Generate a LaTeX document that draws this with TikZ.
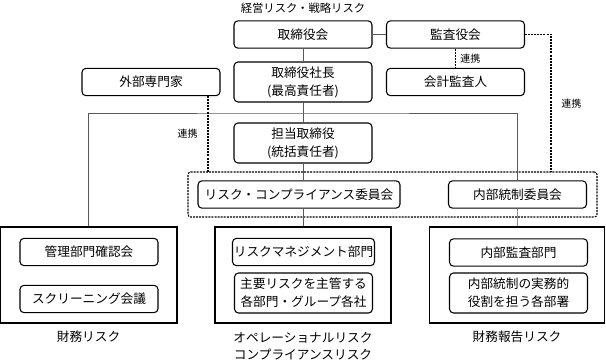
\documentclass[tikz,border=0pt]{standalone}
\usepackage{fontspec}
\setmainfont{Noto Sans CJK JP}
\usetikzlibrary{positioning}

\begin{document}
\begin{tikzpicture}[x=0.75pt,y=-0.75pt,
  box/.style={draw,rounded corners=3pt,fill=white,minimum width=103.5pt,minimum height=20.5pt,align=center,line width=0.8pt,inner sep=1pt,font=\fontsize{9.5}{13.5}\selectfont},
  tallbox/.style={box,minimum height=30pt},
  area/.style={draw,line width=0.8pt,minimum width=132pt,minimum height=72pt},
  group/.style={draw,rounded corners=2pt,line width=0.8pt,dash pattern=on 1.5pt off 0.8pt,minimum width=306.75pt,minimum height=33.75pt},
  link/.style={line width=0.5pt,black!65},
  liaison/.style={line width=0.8pt,dash pattern=on 1.5pt off 0.8pt},
  lbl/.style={align=center,font=\fontsize{9.5}{12.75}\selectfont},
  tiny/.style={font=\fontsize{7.5}{9}\selectfont}
]
\useasboundingbox (0,0) rectangle (606,360);

\node[lbl,font=\fontsize{8.5}{10}\selectfont] (keiei) at (303,8) {経営リスク・戦略リスク};

% top of the organisation
\node[box] (tori) at (303,34.5) {取締役会};
\node[box] (kansa) at (455.5,34.5) {監査役会};
\node[tallbox] (shacho) at (303,82) {取締役社長\\(最高責任者)};
\node[box] (kaikei) at (455.5,82) {会計監査人};
\node[box] (gaibu) at (151,82) {外部専門家};
\node[tallbox] (tanto) at (303,143) {担当取締役\\(統括責任者)};

% committees
\node[group] (iinkai) at (392.5,194.5) {};
\node[box,minimum width=151.5pt] (rcom) at (299,194.5) {リスク・コンプライアンス委員会};
\node[box] (icom) at (517.5,194.5) {内部統制委員会};

% risk areas
\node[area,minimum width=132.3pt] (zaimu) at (88.8,275) {};
\node[area] (opr) at (303,275) {};
\node[area,minimum width=131.7pt] (hokoku) at (517,275) {};

\node[box] (kanri) at (89,252) {管理部門確認会};
\node[box] (screen) at (89,299) {スクリーニング会議};
\node[box] (riskmg) at (303.5,252) {リスクマネジメント部門};
\node[tallbox] (shuyo) at (303.5,293) {主要リスクを主管する\\各部門・グループ各社};
\node[box] (naibu) at (518.5,252.5) {内部監査部門};
\node[tallbox] (jitsumu) at (518.5,293) {内部統制の実務的\\役割を担う各部署};

\node[lbl] (zaimulbl) at (88.5,337) {財務リスク};
\node[lbl] (oprlbl) at (303,346.5) {オペレーショナルリスク\\コンプライアンスリスク};
\node[lbl] (hokokulbl) at (517,337) {財務報告リスク};

% reporting lines
\coordinate (bus) at (303,113);
\draw[link] (tori) -- (kansa);
\draw[link] (tori) -- (shacho);
\draw[link] (shacho) -- (tanto);
\draw[link] (tanto.south) -- (tanto.south |- rcom.north);
\draw[link] (tanto.south |- rcom.south) -- (opr);
\draw[link] (zaimu.north) |- (bus) -| (icom.north);
\draw[link] (icom) -- (hokoku);

% cooperation
\coordinate (gl) at (208,172);
\coordinate (kl) at (551,172);
\draw[liaison] (kansa) -- node[tiny,right] {連携} (kaikei);
\draw[liaison] (gl |- gaibu.south) -- node[tiny,left,xshift=-4pt] {連携} (gl);
\draw[liaison] (kansa.east) -| node[tiny,right,pos=0.75,xshift=4pt] {連携} (kl);
\end{tikzpicture}
\end{document}
